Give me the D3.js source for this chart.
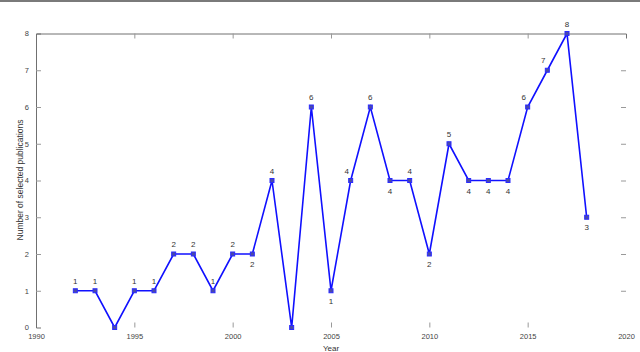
<!DOCTYPE html>
<html><head><meta charset="utf-8">
<script src="https://cdn.jsdelivr.net/npm/d3@7"></script>
<style>body{margin:0;background:#fff;}svg{display:block;font-family:"Liberation Sans",Arial,sans-serif;}</style>
</head><body><svg id="c" width="640" height="352"></svg>
<script>
const years = [1992,1993,1994,1995,1996,1997,1998,1999,2000,2001,2002,2003,2004,2005,2006,2007,2008,2009,2010,2011,2012,2013,2014,2015,2016,2017,2018];
const counts = [1,1,0,1,1,2,2,1,2,2,4,0,6,1,4,6,4,4,2,5,4,4,4,6,7,8,3];
// label placement: t = above, b = below, l = above-left, n = none
const labelPlace = ['t','t','n','t','t','t','t','t','t','b','t','n','t','b','l','t','b','t','b','t','b','b','b','l','l','t','b'];
const xTicks = [1990,1995,2000,2005,2010,2015,2020];
const yTicks = [0,1,2,3,4,5,6,7,8];

const svg = d3.select('#c');
const x = d3.scaleLinear().domain([1990,2020]).range([36,626]);
const y = d3.scaleLinear().domain([0,8]).range([327.5,33.5]);

svg.append('rect').attr('x',0).attr('y',0).attr('width',640).attr('height',2).attr('fill','#7a7a7a');

const axisColor = '#707070';
const gl = svg.append('g').attr('transform','translate(36,0)')
  .call(d3.axisLeft(y).tickValues(yTicks).tickSize(-5).tickPadding(9).tickFormat(d3.format('d')));
const gb = svg.append('g').attr('transform','translate(0,327.5)')
  .call(d3.axisBottom(x).tickValues(xTicks).tickSize(-5).tickPadding(6).tickFormat(d3.format('d')));
gb.select('.domain').remove();
const gt = svg.append('g').attr('transform','translate(0,33.5)')
  .call(d3.axisTop(x).tickValues(xTicks).tickSize(-5).tickFormat(''));
const gr = svg.append('g').attr('transform','translate(626,0)')
  .call(d3.axisRight(y).tickValues(yTicks).tickSize(-5).tickFormat(''));
gr.select('.domain').remove();

[gl,gb,gt,gr].forEach(g=>{
  g.selectAll('.domain').attr('stroke',axisColor).attr('stroke-width',1);
  g.selectAll('.tick line').attr('stroke','#999').attr('stroke-width',1);
  g.selectAll('.tick text').attr('fill','#444').attr('font-size','7.5px').attr('font-family','"Liberation Sans",Arial,sans-serif');
});
gb.selectAll('.tick line').filter(d=>d===1990||d===2020).remove();
gt.selectAll('.tick line').filter(d=>d===1990||d===2020).remove();
gl.selectAll('.tick line').filter(d=>d===0||d===8).remove();
gr.selectAll('.tick line').filter(d=>d===0||d===8).remove();
gl.selectAll('.tick text').attr('dx',2);

svg.append('text').attr('x',331).attr('y',351).attr('text-anchor','middle')
  .attr('font-size','8px').attr('fill','#333').text('Year');
svg.append('text').attr('transform','translate(23,180) rotate(-90)').attr('text-anchor','middle')
  .attr('font-size','8.5px').attr('fill','#333').text('Number of selected publications');

const data = years.map((yr,i)=>({yr, v:counts[i], p:labelPlace[i]}));
svg.append('path').datum(data)
  .attr('d', d3.line().x(d=>x(d.yr)).y(d=>y(d.v)))
  .attr('fill','none').attr('stroke','#1010ff').attr('stroke-width',1.6).attr('stroke-linejoin','miter');
svg.selectAll('rect.m').data(data).join('rect').attr('class','m')
  .attr('x',d=>x(d.yr)-2).attr('y',d=>y(d.v)-2).attr('width',4).attr('height',4)
  .attr('fill','#4a4aa8').attr('stroke','#2a2aff').attr('stroke-width',1);
svg.selectAll('text.lbl').data(data.filter(d=>d.p!=='n')).join('text').attr('class','lbl')
  .attr('x',d=>x(d.yr)+(d.p==='l'?-4:0))
  .attr('y',d=>y(d.v)+(d.p==='b'?13:-7))
  .attr('text-anchor','middle').attr('font-size','8px').attr('fill','#333')
  .text(d=>d.v);
</script></body></html>
